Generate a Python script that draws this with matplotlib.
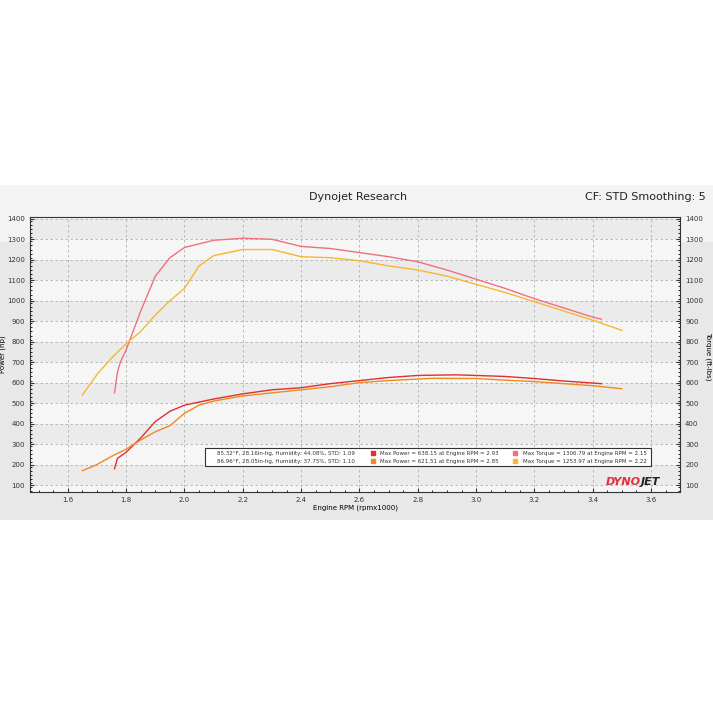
import matplotlib
matplotlib.use("Agg")
import matplotlib.pyplot as plt
from matplotlib.patches import Rectangle
import numpy as np

rpm_rt = [1.76,1.77,1.78,1.8,1.85,1.9,1.95,2.0,2.1,2.2,2.3,2.4,2.5,2.6,2.7,2.8,2.9,3.0,3.1,3.2,3.3,3.4,3.43]
tq_red = [550,650,700,760,950,1120,1210,1260,1295,1305,1300,1265,1255,1235,1215,1190,1150,1105,1060,1010,965,920,910]
rpm_ot = [1.65,1.7,1.75,1.8,1.85,1.9,1.95,2.0,2.05,2.1,2.2,2.3,2.4,2.5,2.6,2.7,2.8,2.9,3.0,3.1,3.2,3.3,3.4,3.5]
tq_org = [540,640,720,790,850,930,1000,1060,1170,1220,1250,1250,1215,1210,1195,1170,1150,1120,1080,1040,995,950,905,855]
rpm_rp = [1.76,1.77,1.8,1.85,1.9,1.95,2.0,2.1,2.2,2.3,2.4,2.5,2.6,2.7,2.8,2.93,3.0,3.1,3.2,3.3,3.43]
hp_red = [180,230,260,330,410,460,490,520,545,565,575,595,610,625,635,638,635,630,620,608,595]
rpm_op = [1.65,1.7,1.75,1.8,1.85,1.9,1.95,2.0,2.05,2.1,2.2,2.3,2.4,2.5,2.6,2.7,2.85,3.0,3.1,3.2,3.3,3.4,3.5]
hp_org = [170,200,240,275,320,360,390,450,490,510,535,550,565,580,600,610,621,620,612,605,595,585,570]
xticks = [1.6,1.8,2.0,2.2,2.4,2.6,2.8,3.0,3.2,3.4,3.6]
yticks = list(range(100,1401,100))
legend_rows = [
    ("85.32°F, 28.16in-hg, Humidity: 44.08%, STD: 1.09", "Max Power = 638.15 at Engine RPM = 2.93", "Max Torque = 1306.79 at Engine RPM = 2.15"),
    ("86.96°F, 28.05in-hg, Humidity: 37.75%, STD: 1.10", "Max Power = 621.51 at Engine RPM = 2.85", "Max Torque = 1253.97 at Engine RPM = 2.22"),
]
C_RED = "#e03030"; C_PINK = "#f07080"; C_ORG = "#f08a20"; C_YEL = "#f5b830"

fig = plt.figure(figsize=(7.13,7.13), dpi=100)
fig.patch.set_facecolor("white")
fig.add_artist(Rectangle((0,0.27),1,0.47,transform=fig.transFigure,facecolor="#e8e8e8",edgecolor="none",zorder=0))
fig.add_artist(Rectangle((0,0.66),1,0.08,transform=fig.transFigure,facecolor="#f3f3f3",edgecolor="none",zorder=0))
fig.text(0.502,0.724,"Dynojet Research",ha="center",va="center",fontsize=8,color="#222")
fig.text(0.99,0.724,"CF: STD Smoothing: 5",ha="right",va="center",fontsize=8,color="#222")

ax = fig.add_axes([0.042,0.31,0.912,0.386])
ax.set_facecolor("#f6f6f6")
for y0 in range(0,1500,100):
    if (y0//100)%2==1:
        ax.axhspan(y0,y0+100,color="#ebebeb",zorder=0,lw=0)
ax.set_xlim(1.47,3.70); ax.set_ylim(66,1410)
ax.set_xticks(xticks); ax.set_yticks(yticks)
ax.set_xticks(np.arange(1.5,3.71,0.05),minor=True)
ax.set_yticks(range(70,1410,20),minor=True)
ax.tick_params(labelsize=5,length=3,direction="in",right=True,labelright=True,colors="#333")
ax.tick_params(which="minor",length=1.5,direction="in",right=True)
ax.grid(True,ls=(0,(3,3)),color="#b0b0b0",lw=0.6)
for s in ax.spines.values(): s.set_color("#333")
ax.set_xlabel("Engine RPM (rpmx1000)",fontsize=5,labelpad=1)
ax.set_ylabel("Power (hp)",fontsize=5,labelpad=1)
fig.text(0.993,0.50,"Torque (ft-lbs)",rotation=270,fontsize=5,va="center",ha="center")

ax.plot(rpm_rt,tq_red,color=C_PINK,lw=1)
ax.plot(rpm_ot,tq_org,color=C_YEL,lw=1)
ax.plot(rpm_rp,hp_red,color=C_RED,lw=1)
ax.plot(rpm_op,hp_org,color=C_ORG,lw=1)

ax.add_patch(Rectangle((2.07,193),1.53,88,facecolor="white",edgecolor="#333",lw=0.8,zorder=5))
cols = [(C_RED,C_PINK),(C_ORG,C_YEL)]
for r,(a,b,c) in enumerate(legend_rows):
    y = 256 - r*39
    ax.text(2.11,y,a,fontsize=4.0,va="center",zorder=6,color="#333")
    ax.plot([2.645],[y],marker="s",ms=2.5,color=cols[r][0],zorder=6)
    ax.text(2.67,y,b,fontsize=4.0,va="center",zorder=6,color="#333")
    ax.plot([3.135],[y],marker="s",ms=2.5,color=cols[r][1],zorder=6)
    ax.text(3.16,y,c,fontsize=4.0,va="center",zorder=6,color="#333")
ax.text(3.565,115,"DYNO",fontsize=8,fontweight="bold",style="italic",color="#e03040",ha="right",va="center",zorder=6)
ax.text(3.565,115,"JET",fontsize=8,fontweight="bold",style="italic",color="#222",ha="left",va="center",zorder=6)
fig.savefig("out.png",dpi=100)
